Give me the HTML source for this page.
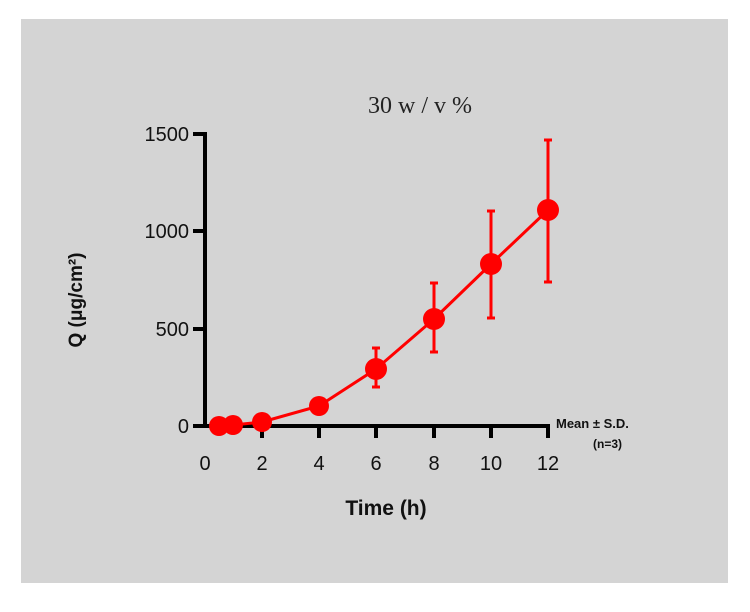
<!DOCTYPE html>
<html><head><style>body{margin:0;background:#fff}svg{display:block}</style></head><body>
<svg width="750" height="612" xmlns="http://www.w3.org/2000/svg" font-family="Liberation Sans, Arial, sans-serif">
<rect x="21" y="19" width="707" height="564" fill="#d4d4d4"/>
<text x="420" y="113" font-family="Liberation Serif, serif" font-size="24" text-anchor="middle" fill="#222">30  w / v %</text>
<g stroke="#000" stroke-width="4" fill="none">
<line x1="205" y1="132" x2="205" y2="428"/>
<line x1="203" y1="426" x2="550" y2="426"/>
<line x1="193" y1="134" x2="205" y2="134"/>
<line x1="193" y1="231" x2="205" y2="231"/>
<line x1="193" y1="329" x2="205" y2="329"/>
<line x1="193" y1="426" x2="205" y2="426"/>
<line x1="262" y1="426" x2="262" y2="438"/>
<line x1="319" y1="426" x2="319" y2="438"/>
<line x1="376" y1="426" x2="376" y2="438"/>
<line x1="434" y1="426" x2="434" y2="438"/>
<line x1="491" y1="426" x2="491" y2="438"/>
<line x1="548" y1="426" x2="548" y2="438"/>
</g>
<g font-size="20" fill="#111" text-anchor="end">
<text x="189" y="141">1500</text>
<text x="189" y="238">1000</text>
<text x="189" y="336">500</text>
<text x="189" y="433">0</text>
</g>
<g font-size="20" fill="#111" text-anchor="middle">
<text x="205" y="470">0</text><text x="262" y="470">2</text><text x="319" y="470">4</text>
<text x="376" y="470">6</text><text x="434" y="470">8</text><text x="491" y="470">10</text><text x="548" y="470">12</text>
</g>
<text x="386" y="515" font-size="21" font-weight="bold" text-anchor="middle" fill="#111">Time (h)</text>
<text transform="translate(82,300) rotate(-90)" font-size="19" font-weight="bold" text-anchor="middle" fill="#111">Q (μg/cm²)</text>
<text x="556" y="428" font-size="13" font-weight="bold" fill="#111">Mean ± S.D.</text>
<text x="593" y="448" font-size="12" font-weight="bold" fill="#111">(n=3)</text>
<g stroke="#f00" stroke-width="3" fill="none">
<polyline points="219,426 233,425 262,422 319,406 376,369 434,319 491,264 548,210"/>
<line x1="376" y1="348" x2="376" y2="387"/><line x1="372" y1="348" x2="380" y2="348"/><line x1="372" y1="387" x2="380" y2="387"/>
<line x1="434" y1="283" x2="434" y2="352"/><line x1="430" y1="283" x2="438" y2="283"/><line x1="430" y1="352" x2="438" y2="352"/>
<line x1="491" y1="211" x2="491" y2="318"/><line x1="487" y1="211" x2="495" y2="211"/><line x1="487" y1="318" x2="495" y2="318"/>
<line x1="548" y1="140" x2="548" y2="282"/><line x1="544" y1="140" x2="552" y2="140"/><line x1="544" y1="282" x2="552" y2="282"/>
</g>
<g fill="#f00">
<circle cx="219" cy="426" r="10"/><circle cx="233" cy="425" r="10"/><circle cx="262" cy="422" r="10"/>
<circle cx="319" cy="406" r="10"/><circle cx="376" cy="369" r="11"/><circle cx="434" cy="319" r="11"/>
<circle cx="491" cy="264" r="11"/><circle cx="548" cy="210" r="11"/>
</g>
</svg>
</body></html>
